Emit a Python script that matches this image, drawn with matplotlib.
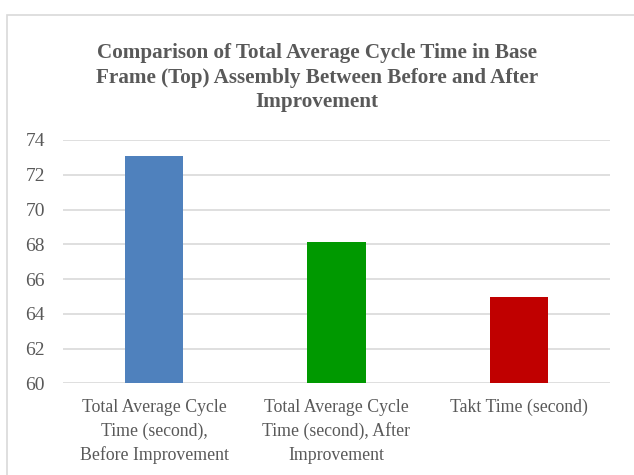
import matplotlib.pyplot as plt
from matplotlib.patches import Rectangle

# chart data
categories = [
    "Total Average Cycle\nTime (second),\nBefore Improvement",
    "Total Average Cycle\nTime (second), After\nImprovement",
    "Takt Time (second)",
]
values = [73.1, 68.13, 64.97]
bar_colors = ["#4F81BD", "#009900", "#C00000"]
y_ticks = [60, 62, 64, 66, 68, 70, 72, 74]

title = ("Comparison of Total Average Cycle Time in Base\n"
         "Frame (Top) Assembly Between Before and After\n"
         "Improvement")

plt.rcParams['font.family'] = ['Liberation Serif', 'DejaVu Serif']
text_color = "#595959"

fig = plt.figure(figsize=(6.34, 4.75), dpi=100)
ax = fig.add_axes([63 / 634, 1 - 383.3 / 475, (610 - 63) / 634, (383.3 - 140) / 475])

x = range(len(categories))
ax.bar(x, values, width=0.32, color=bar_colors, zorder=3)

ax.set_ylim(60, 74)
ax.set_xlim(-0.5, 2.5)
ax.set_yticks(y_ticks)
ax.set_xticks(list(x))
ax.set_xticklabels(categories, fontsize=12.8, color=text_color, linespacing=1.5)
ax.tick_params(axis='y', labelsize=14, labelcolor=text_color, length=0, pad=13)
ax.tick_params(axis='x', length=0, pad=11)
ax.grid(axis='y', color="#d9d9d9", linewidth=1.2, zorder=0)
for s in ax.spines.values():
    s.set_visible(False)

fig.text(0.5, 1 - 43 / 475, title, ha='center', va='top', fontsize=15.2,
         fontweight='bold', color=text_color, linespacing=1.3)

# outer chart border (cut off at right/bottom in the reference)
fig.patches.append(Rectangle((7 / 634, -0.1), 1.2, 1.1 - 15 / 475,
                             transform=fig.transFigure, fill=False,
                             edgecolor="#d9d9d9", linewidth=1.2))

plt.savefig("out.png", dpi=100)
